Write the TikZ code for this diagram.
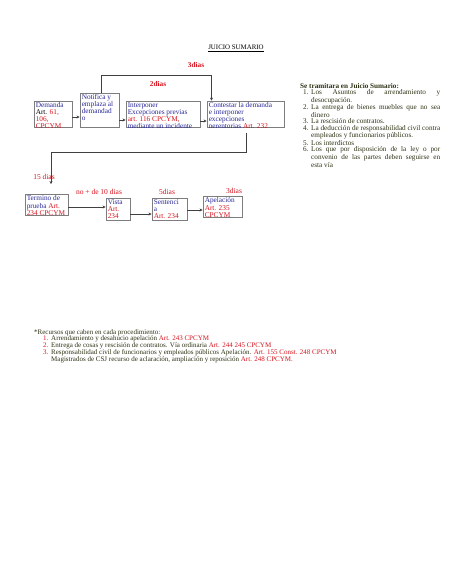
\documentclass[tikz,border=0pt]{standalone}
\usepackage{fontspec}
\setmainfont{Liberation Serif}
\usetikzlibrary{arrows.meta}
\definecolor{tblue}{RGB}{40,40,150}
\definecolor{tred}{RGB}{215,20,30}
\definecolor{tgrn}{RGB}{45,50,20}
\definecolor{lgray}{RGB}{125,125,125}
\newcommand\rd[1]{\textcolor{tred}{#1}}
\newcommand\boxtext[2]{\begin{scope}\clip (#1.south west) rectangle (#1.north east);
  \node[bt] at ([xshift=2pt,yshift=-1.5pt]#1.north west) {#2};\end{scope}}
\newcommand\itm[2]{\par\hangindent=11pt\hangafter=1\noindent\hspace*{3pt}\makebox[8pt][l]{#1}#2\par}
\begin{document}
\lineskiplimit=-10pt\relax
\begin{tikzpicture}[x=1pt,y=-1pt,
  box/.style={draw=lgray, line width=0.9pt, inner sep=0pt},
  conn/.style={draw=black!75, line width=0.7pt},
  arr/.style={conn, -{Stealth[length=3pt,width=3pt]}},
  bt/.style={anchor=north west, inner sep=0pt, align=left, font=\fontsize{7.3}{7.2}\selectfont, text=tblue},
  lbl/.style={font=\fontsize{7.5}{8}\selectfont, text=tred, inner sep=0pt},
  blbl/.style={lbl, font=\fontsize{7.3}{8}\selectfont\bfseries},
]
\fill[white] (0,0) rectangle (474,575);
\useasboundingbox (0,0) rectangle (474,575);

\node[inner sep=0pt, font=\fontsize{6.9}{8}\selectfont] (title) at (236,48) {\underline{JUICIO SUMARIO}};
\node[blbl] (l3a) at (196,65) {3dias};
\node[blbl] (l2a) at (158,84) {2dias};

% top row boxes
\node[box, minimum width=38pt, minimum height=26pt] (dem) at (53,114) {};
\node[box, minimum width=39pt, minimum height=34pt] (not) at (99.5,110) {};
\node[box, minimum width=74pt, minimum height=26pt] (int) at (163,114) {};
\node[box, minimum width=77pt, minimum height=26pt] (con) at (245.5,114) {};
\boxtext{dem}{Demanda\\\textcolor{black}{Art.} \rd{61,}\\\rd{106,}\\\rd{CPCYM}}
\boxtext{not}{Notifica y\\emplaza al\\demandad\\o}
\boxtext{int}{Interponer\\Excepciones previas\\\rd{art. 116 CPCYM,}\\mediante un incidente}
\boxtext{con}{Contestar la  demanda\\e interponer\\excepciones\\perentorias \rd{Art. 232}}

\draw[arr] ([yshift=-3pt]dem.east) -- ([yshift=-3pt]dem.east -| not.west);
\draw[arr] ([yshift=-10pt]not.east) -- ([yshift=-10pt]not.east -| int.west);
\draw[arr] ([yshift=-7pt]int.east) -- ([yshift=-7pt]int.east -| con.west);
\draw[arr] ([xshift=2pt]not.north) -- ++(0,-17) -| ([xshift=-34pt]con.north);

% bottom row
\node[box, minimum width=43pt, minimum height=21pt] (ter) at (46.5,205) {};
\node[box, minimum width=24pt, minimum height=22pt] (vis) at (118,209) {};
\node[box, minimum width=35pt, minimum height=22pt] (sen) at (169.5,209) {};
\node[box, minimum width=39pt, minimum height=21pt] (ape) at (222.5,207) {};
\boxtext{ter}{Termino de\\prueba \rd{Art.}\\\rd{234 CPCYM}}
\boxtext{vis}{Vista\\\rd{Art.}\\\rd{234}}
\boxtext{sen}{Sentenci\\a\\\rd{Art. 234}}
\boxtext{ape}{Apelación\\\rd{Art. 235}\\\rd{CPCYM}}

\coordinate (c1) at (246,133);
\coordinate (bend) at (51,152);
\draw[arr, shorten >=10pt] (c1) |- (bend) -- ([xshift=4.5pt]ter.north);
\draw[arr] ([yshift=-2pt]ter.east) -- ([yshift=-2pt]ter.east -| vis.west);
\draw[arr] ([yshift=-5pt]vis.east) -- ([yshift=-5pt]vis.east -| sen.west);
\draw[arr] ([yshift=-1pt]sen.east) -- ([yshift=-1pt]sen.east -| ape.west);

\node[lbl] (l15) at (44,177) {15 dias};
\node[lbl] (l10) at (99,192) {no + de 10 dias};
\node[lbl] (l5) at (167,192) {5dias};
\node[lbl] (l3b) at (234,191) {3dias};

% right text
\node[anchor=north west, inner sep=0pt, text width=140pt, align=justify, text=tgrn,
  font=\fontsize{7.2}{6.5}\selectfont] (side) at (300,83) {%
\noindent\textbf{Se tramitara en Juicio Sumario:}
\itm{1.}{Los Asuntos de arrendamiento y\linebreak desocupación.}
\itm{2.}{La entrega de bienes muebles que no sea\linebreak dinero}
\itm{3.}{La rescisión de contratos.}
\itm{4.}{La deducción de responsabilidad civil contra\linebreak empleados y funcionarios públicos.}
\itm{5.}{Los interdictos}
\itm{6.}{Los que por disposición de la ley o por\linebreak convenio de las partes deben seguirse en\linebreak esta vía}};

% bottom text
\node[anchor=north west, inner sep=0pt, align=left, text=tgrn,
  font=\fontsize{7}{6.8}\selectfont] (rec) at (34,329) {%
*Recursos que caben  en cada procedimiento:\\
\hspace*{9pt}\makebox[8pt][l]{\rd{1.}}Arrendamiento y desahucio  apelación \rd{Art. 243 CPCYM}\\
\hspace*{9pt}\makebox[8pt][l]{\rd{2.}}Entrega de cosas y rescisión de contratos. Vía ordinaria \rd{Art. 244 245 CPCYM}\\
\hspace*{9pt}\makebox[8pt][l]{\rd{3.}}Responsabilidad civil de funcionarios y empleados públicos Apelación. \rd{Art. 155 Const. 248 CPCYM}\\
\hspace*{17pt}Magistrados de CSJ recurso de aclaración, ampliación y reposición \rd{Art. 248 CPCYM.}};
\end{tikzpicture}
\end{document}
